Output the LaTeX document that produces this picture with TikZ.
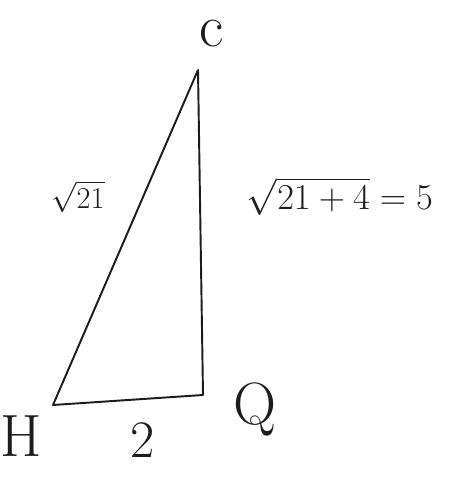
\documentclass[tikz,border=0pt]{standalone}
\usepackage{amsmath}
\usepackage{tikz}
\usetikzlibrary{positioning, calc}
\definecolor{pencil}{HTML}{1c1c1c}
\tikzset{
  side/.style={line width=1.1pt, pencil, line cap=round, line join=round},
  vlab/.style={font=\fontsize{34}{38}\selectfont, text=pencil, inner sep=1pt},
  slab/.style={font=\fontsize{22}{26}\selectfont, text=pencil, inner sep=1pt},
}
\begin{document}
\begin{tikzpicture}
  \useasboundingbox (0,0) rectangle (9.08,9.68);
  % triangle corners
  \coordinate (c) at (3.96,8.28);
  \coordinate (h) at (1.06,1.58);
  \coordinate (q) at (4.06,1.78);
  \draw[side] (h)--(c)--(q)--cycle;
  % corner labels
  \node[vlab] (lc) at (4.24,9.0) {c};
  \node[vlab] (lh) at (0.42,0.96) {H};
  \node[vlab] (lq) at (5.1,1.5) {Q};
  % side labels
  \node[slab, font=\fontsize{18}{22}\selectfont] (lhc) at (1.56,5.75) {$\sqrt{21}$};
  \node[slab] (lqc) at (6.8,5.75) {$\sqrt{21+4}=5$};
  \node[slab, font=\fontsize{30}{34}\selectfont] (lhq) at (2.86,0.88) {2};
\end{tikzpicture}
\end{document}
